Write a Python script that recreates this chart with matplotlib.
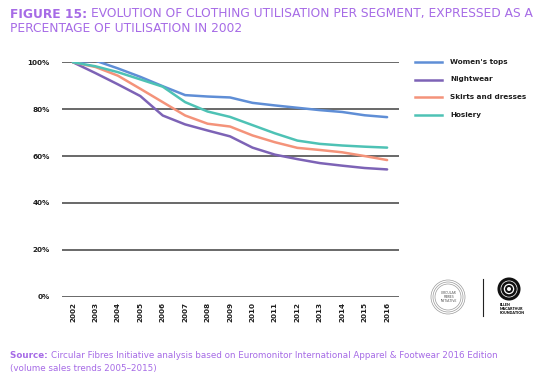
import matplotlib
matplotlib.use('Agg')
import matplotlib.pyplot as plt
from matplotlib.patches import Circle

# ── data (share of 2002 utilisation, %) ───────────────────────────
years = list(range(2002, 2017))
womens_tops = [100, 100.7, 97.4, 93.8, 89.8, 86.0, 85.4, 85.0, 82.7, 81.6, 80.6, 79.6, 78.8, 77.4, 76.6]
nightwear = [100, 95.4, 90.6, 85.6, 77.3, 73.5, 70.9, 68.4, 63.6, 60.6, 58.7, 57.0, 55.9, 54.9, 54.3]
skirts = [100, 98.0, 94.3, 88.7, 83.0, 77.3, 73.8, 72.6, 68.8, 65.9, 63.5, 62.6, 61.6, 60.0, 58.3]
hosiery = [100, 98.3, 95.8, 92.7, 89.6, 83.0, 79.0, 76.7, 73.2, 69.7, 66.6, 65.2, 64.5, 64.0, 63.6]
series_names = ["Women's tops", 'Nightwear', 'Skirts and dresses', 'Hosiery']
y_ticks = [0, 20, 40, 60, 80, 100]

COLORS = ['#5F8ED6', '#7D63B6', '#F4937A', '#4EC2B5']
PURPLE = '#A66BE6'
GRID = '#404040'
TEXT = '#1E1E1E'
FONT = 'Lato'
WIDE = 'DejaVu Sans'

fig = plt.figure(figsize=(5.49, 3.78), dpi=100, facecolor='white')
ax = fig.add_axes([62 / 549, 1 - 296.7 / 378, 337 / 549, 234.4 / 378])

for vals, col in zip([womens_tops, nightwear, skirts, hosiery], COLORS):
    ax.plot(years, vals, color=col, linewidth=1.8, solid_capstyle='round', zorder=3)

ax.set_xlim(2001.51, 2016.53)
ax.set_ylim(0, 100)
for t in y_ticks:
    ax.axhline(t, color=GRID, linewidth=1.1, zorder=1)

ax.set_yticks(y_ticks)
ax.set_yticklabels([f'{t}%' for t in y_ticks], fontsize=5.2, fontweight='bold',
                   family=WIDE, color=TEXT)
ax.set_xticks(years)
ax.set_xticklabels([str(y) for y in years], rotation=90, fontsize=5.2,
                   fontweight='bold', family=WIDE, color=TEXT)
ax.tick_params(axis='both', length=0)
ax.tick_params(axis='y', pad=9)
ax.tick_params(axis='x', pad=4)
for s in ax.spines.values():
    s.set_visible(False)

# ── legend (drawn by hand in figure coords) ───────────────────────
leg_y = [62, 79.5, 97, 114.5]
for name, col, yy in zip(series_names, COLORS, leg_y):
    fy = 1 - yy / 378
    fig.add_artist(plt.Line2D([415 / 549, 442 / 549], [fy, fy], color=col,
                              linewidth=1.8, transform=fig.transFigure))
    fig.text(450 / 549, fy, name, fontsize=5.2, fontweight='bold', family=WIDE,
             color=TEXT, va='center', ha='left')

# ── title ─────────────────────────────────────────────────────────
t1 = fig.text(10 / 549, 1 - 14 / 378, 'FIGURE 15: ', fontsize=8.8, fontweight='bold',
              family=WIDE, color=PURPLE, va='center')
fig.canvas.draw()
bb = t1.get_window_extent()
fig.text(bb.x1 / fig.bbox.width, 1 - 14 / 378,
         'EVOLUTION OF CLOTHING UTILISATION PER SEGMENT, EXPRESSED AS A',
         fontsize=8.8, family=WIDE, color=PURPLE, va='center')
fig.text(10 / 549, 1 - 28 / 378, 'PERCENTAGE OF UTILISATION IN 2002',
         fontsize=8.8, family=WIDE, color=PURPLE, va='center')

# ── source ────────────────────────────────────────────────────────
s1 = fig.text(10 / 549, 1 - 356 / 378, 'Source: ', fontsize=6.3, fontweight='bold',
              family=WIDE, color=PURPLE, va='center')
fig.canvas.draw()
bb = s1.get_window_extent()
fig.text(bb.x1 / fig.bbox.width, 1 - 356 / 378,
         'Circular Fibres Initiative analysis based on Euromonitor International Apparel & Footwear 2016 Edition',
         fontsize=6.3, family=WIDE, color=PURPLE, va='center')
fig.text(10 / 549, 1 - 369 / 378, '(volume sales trends 2005\u20132015)',
         fontsize=6.3, family=WIDE, color=PURPLE, va='center')

# ── logos (rough) ─────────────────────────────────────────────────
lax = fig.add_axes([0, 0, 1, 1], facecolor='none')
lax.set_xlim(0, 549)
lax.set_ylim(378, 0)
lax.axis('off')
for r in [17, 15, 13]:
    lax.add_patch(Circle((448, 297), r, fill=False, edgecolor='#9A9A9A', linewidth=0.5))
lax.text(449, 297, 'CIRCULAR\nFIBRES\nINITIATIVE', fontsize=2.4, color='#555555',
         ha='center', va='center', family=FONT, linespacing=1.1)
lax.plot([483, 483], [279, 316], color='#222222', linewidth=0.8)
for r, w in [(10, 2.2), (6.5, 1.8), (3, 1.4)]:
    lax.add_patch(Circle((509, 289), r, fill=False, edgecolor='#111111', linewidth=w))
lax.text(500, 309, 'ELLEN\nMACARTHUR\nFOUNDATION', fontsize=2.6, fontweight='heavy',
         color='#111111', ha='left', va='center', family=FONT, linespacing=1.0)

plt.savefig('out.png', dpi=100, facecolor='white')
plt.close()
